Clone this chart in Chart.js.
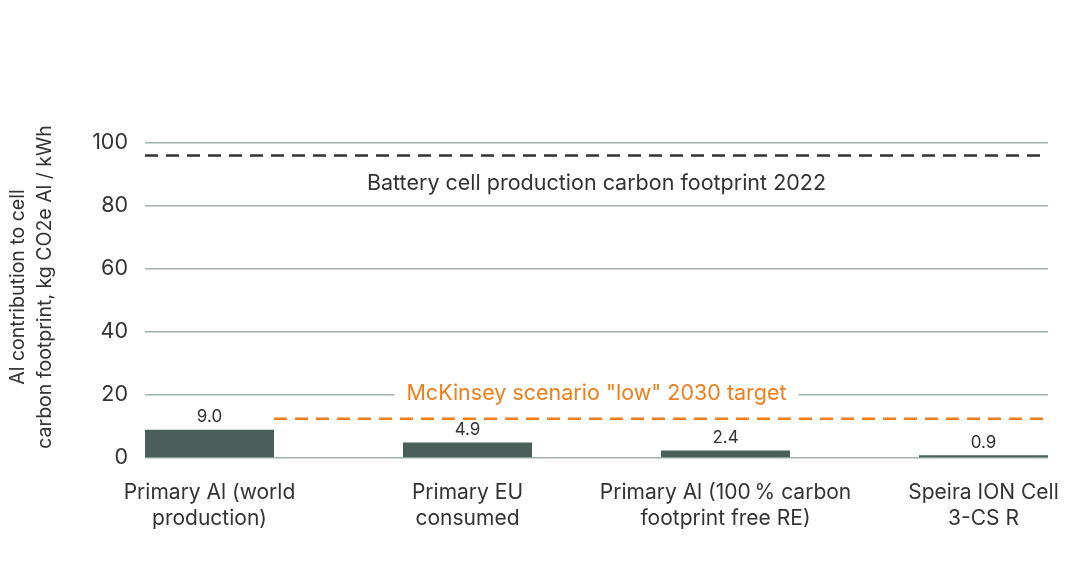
<!DOCTYPE html>
<html>
<head>
<meta charset="utf-8">
<script src="https://cdn.jsdelivr.net/npm/chart.js@4"></script>
<style>
  html, body { margin: 0; padding: 0; background: #fff; }
  #wrap { width: 1068px; height: 580px; }
</style>
</head>
<body>
<div id="wrap"><canvas id="grafica"></canvas></div>
<script>
var categorias = [
    ['Primary Al (world', 'production)'],
    ['Primary EU', 'consumed'],
    ['Primary Al (100\u2009% carbon', 'footprint free RE)'],
    ['Speira ION Cell', '3-CS R']
];
var valores = [9.0, 4.9, 2.4, 0.9];
var etiquetas = ['9.0', '4.9', '2.4', '0.9'];
var ticksY = [0, 20, 40, 60, 80, 100];
var bateria2022 = 96;
var mckinsey2030 = 12.5;
var tituloY = ['Al contribution to cell', 'carbon footprint, kg CO2e Al / kWh'];

var fuente = 'Inter, "Noto Sans", sans-serif';
var colorBarra = '#4a5f5a';
var colorGrid = '#a3b1ac';
var colorTexto = '#333333';
var naranja = '#f07e1b';

// textos, etiquetas y titulo dibujados a mano
var extras = {
    id: 'extras',
    afterDatasetsDraw: function(chart) {
        var ctx = chart.ctx;
        var y = chart.scales.y;
        var area = chart.chartArea;
        var cx = (area.left + area.right) / 2;
        ctx.save();

        // etiquetas de barras
        ctx.font = '17px ' + fuente;
        ctx.fillStyle = colorTexto;
        ctx.textAlign = 'center';
        ctx.textBaseline = 'bottom';
        chart.getDatasetMeta(0).data.forEach(function(bar, i) {
            ctx.fillText(etiquetas[i], bar.x, bar.y - 4);
        });

        // texto linea bateria
        ctx.font = '21.5px ' + fuente;
        ctx.textBaseline = 'middle';
        ctx.fillStyle = colorTexto;
        ctx.fillText('Battery cell production carbon footprint 2022', cx, y.getPixelForValue(87.2));

        // texto mckinsey con fondo blanco
        var txt = 'McKinsey scenario "low" 2030 target';
        var ty = y.getPixelForValue(20) - 1;
        var w = ctx.measureText(txt).width;
        ctx.fillStyle = '#fff';
        ctx.fillRect(cx - w / 2 - 12, ty - 13, w + 24, 26);
        ctx.fillStyle = naranja;
        ctx.fillText(txt, cx, ty);

        // titulo eje y
        ctx.translate(31.5, 287);
        ctx.rotate(-Math.PI / 2);
        ctx.fillStyle = colorTexto;
        ctx.font = '19.5px ' + fuente;
        ctx.fillText(tituloY[0], 0, -13.5);
        ctx.fillText(tituloY[1], 0, 13.5);
        ctx.restore();
    }
};

var ctx = document.getElementById('grafica').getContext('2d');
var grafica = new Chart(ctx, {
    data: {
        datasets: [{
            type: 'bar',
            data: valores.map(function(v, i) { return { x: i, y: v }; }),
            backgroundColor: colorBarra,
            barPercentage: 0.5,
            categoryPercentage: 1,
            order: 2
        }, {
            type: 'line',
            data: [{ x: -0.25, y: bateria2022 }, { x: 3.25, y: bateria2022 }],
            borderColor: '#333333',
            borderWidth: 2.5,
            borderDash: [13, 8],
            pointRadius: 0,
            order: 1
        }, {
            type: 'line',
            data: [{ x: 0.25, y: mckinsey2030 }, { x: 3.25, y: mckinsey2030 }],
            borderColor: naranja,
            borderWidth: 2.5,
            borderDash: [13, 8],
            pointRadius: 0,
            order: 1
        }]
    },
    options: {
        responsive: true,
        maintainAspectRatio: false,
        animation: false,
        layout: { padding: { top: 143, right: 20, left: 0, bottom: 0 } },
        plugins: {
            legend: { display: false },
            tooltip: { enabled: false }
        },
        scales: {
            x: {
                type: 'linear',
                offset: false,
                min: -0.25,
                max: 3.25,
                afterBuildTicks: function(scale) {
                    scale.ticks = categorias.map(function(c, i) { return { value: i }; });
                },
                afterFit: function(scale) {
                    scale.height = 122;
                    scale.paddingLeft = 0;
                    scale.paddingRight = 0;
                },
                grid: { display: false },
                border: { display: false },
                ticks: {
                    autoSkip: false,
                    maxRotation: 0,
                    padding: 14,
                    color: colorTexto,
                    font: { family: fuente, size: 21, lineHeight: 1.24 },
                    callback: function(v) { return categorias[v]; }
                }
            },
            y: {
                min: 0,
                max: 100,
                afterBuildTicks: function(scale) {
                    scale.ticks = ticksY.map(function(v) { return { value: v }; });
                },
                afterFit: function(scale) { scale.width = 145; },
                grid: { color: colorGrid, lineWidth: 1.5, drawTicks: false },
                border: { display: false },
                ticks: {
                    padding: 17,
                    color: colorTexto,
                    font: { family: fuente, size: 21.5 }
                }
            }
        }
    },
    plugins: [extras]
});
</script>
</body>
</html>
